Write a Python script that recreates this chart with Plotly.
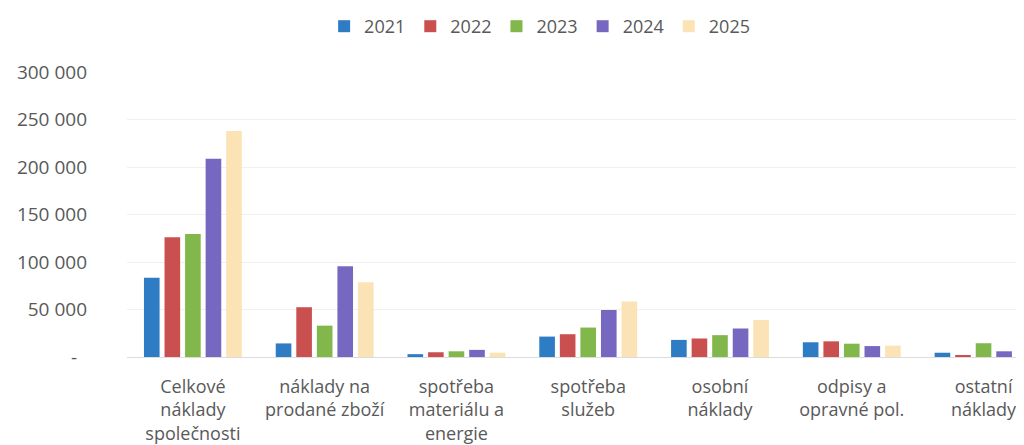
import plotly.graph_objects as go

# categories (x axis) and yearly values
categories = [
    "Celkové<br>náklady<br>společnosti",
    "náklady na<br>prodané zboží",
    "spotřeba<br>materiálu a<br>energie",
    "spotřeba<br>služeb",
    "osobní<br>náklady",
    "odpisy a<br>opravné pol.",
    "ostatní<br>náklady",
]
years = ["2021", "2022", "2023", "2024", "2025"]

v2021 = [83300, 14300, 3000, 21500, 18000, 15500, 4500]
v2022 = [126000, 52400, 5000, 24000, 19500, 16500, 1500]
v2023 = [129500, 33000, 6000, 31000, 23000, 14000, 14500]
v2024 = [208600, 95500, 7500, 49500, 30000, 11500, 6000]
v2025 = [237800, 78800, 4500, 58500, 39000, 12000, 28500]

y_ticks = [0, 50000, 100000, 150000, 200000, 250000, 300000]

series = [v2021, v2022, v2023, v2024, v2025]
colors = ["#2E7CC4", "#C9504F", "#82B74C", "#7668C0", "#FCE3B5"]

tick_text = ["-\u00a0\u00a0" if v == 0 else f"{v:,}".replace(",", " ") for v in y_ticks]

fig = go.Figure()
for name, vals, col in zip(years, series, colors):
    fig.add_trace(go.Bar(
        x=categories,
        y=vals,
        name=name,
        marker=dict(color=col, line=dict(width=0)),
    ))

# page body has an 8px margin, so the figure is shifted and trimmed to fit
fig.update_layout(
    width=1016,
    height=437,
    margin=dict(l=119, r=0, t=61, b=88),
    barmode="group",
    bargap=0.22,
    bargroupgap=0.24,
    plot_bgcolor="white",
    paper_bgcolor="white",
    font=dict(family="Open Sans", size=18, color="#595959"),
    showlegend=True,
    legend=dict(
        orientation="h",
        x=0.46,
        xanchor="center",
        y=1.16,
        yanchor="middle",
        font=dict(size=18, color="#595959"),
        bgcolor="rgba(0,0,0,0)",
    ),
)

fig.update_xaxes(
    type="category",
    range=[-0.5, 6.307],
    showgrid=False,
    showline=False,
    zeroline=False,
    ticks="",
    ticklabelstandoff=17,
    tickangle=0,
    automargin=False,
    tickfont=dict(size=18, color="#595959"),
)

fig.update_yaxes(
    range=[0, 300000],
    tickvals=y_ticks,
    ticktext=tick_text,
    showgrid=True,
    gridcolor="#F0F0F0",
    gridwidth=1,
    zeroline=True,
    zerolinecolor="#DCDCDC",
    zerolinewidth=1,
    showline=False,
    ticks="",
    ticklabelstandoff=39,
    automargin=False,
    tickfont=dict(size=19, color="#595959"),
)

fig.write_html("out.html")
